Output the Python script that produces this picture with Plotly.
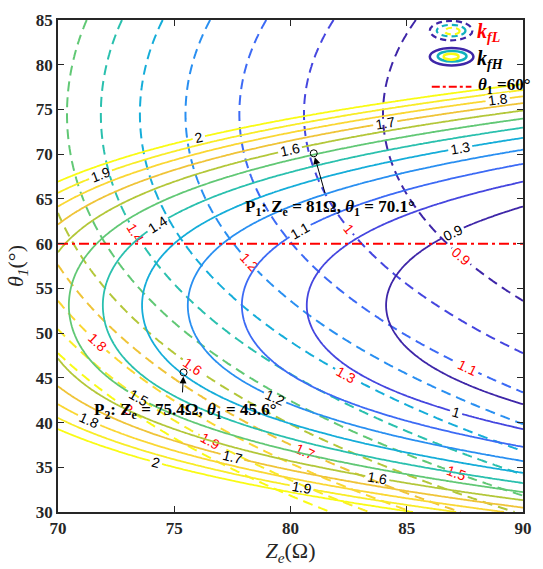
import numpy as np
import plotly.graph_objects as go

# Sweep ranges: even-mode impedance Ze (ohm) and electrical length theta1 (deg)
ze = np.linspace(70, 90, 201)
theta = np.linspace(30, 85, 221)

# Contour levels shared by both frequency ratios
level_start, level_end, level_step = 0.9, 2.0, 0.1

# Ratio model: k = (c0 + c2*d^2 + c4*d^4) / (Ze - Zref), d = theta1 - centre
z_ref = 50.0
kfh_center = 53.1
kfh_coef = [30.7, 0.0341, 7.6e-5]
kfl_center = 74.5
kfl_coef = [30.58, 0.01124, 2.70e-6]

# Design points (Ze, theta1)
p1 = (81.0, 70.1)
p2 = (75.4, 45.6)
theta_ref = 60

x_ticks = [70, 75, 80, 85, 90]
y_ticks = [30, 35, 40, 45, 50, 55, 60, 65, 70, 75, 80, 85]

# parula colour map
parula = [
    [0.000, "rgb(62,38,168)"], [0.125, "rgb(72,82,244)"], [0.250, "rgb(46,135,247)"],
    [0.375, "rgb(18,177,214)"], [0.500, "rgb(55,200,151)"], [0.625, "rgb(171,199,57)"],
    [0.750, "rgb(254,195,56)"], [0.875, "rgb(247,231,46)"], [1.000, "rgb(249,251,20)"],
]

Z, T = np.meshgrid(ze, theta)


def ratio(coef, center):
    d = T - center
    return (coef[0] + coef[1] * d**2 + coef[2] * d**4) / (Z - z_ref)


kfh = ratio(kfh_coef, kfh_center)
kfl = ratio(kfl_coef, kfl_center)

fig = go.Figure()


def contour_trace(z, dash, label_color, width):
    return go.Contour(
        x=ze, y=theta, z=z,
        colorscale=parula, zmin=level_start, zmax=level_end, zauto=False,
        showscale=False, hoverinfo="skip",
        contours=dict(start=level_start, end=level_end + 1e-3, size=level_step,
                      coloring="lines", showlabels=True,
                      labelfont=dict(family="Liberation Sans", size=14, color=label_color)),
        line=dict(width=width, dash=dash, smoothing=1),
    )


fig.add_trace(contour_trace(kfl, "10px,6px", "red", 2))
fig.add_trace(contour_trace(kfh, "solid", "black", 1.8))

# theta1 = 60 deg reference line
fig.add_trace(go.Scatter(x=[ze[0], ze[-1]], y=[theta_ref, theta_ref], mode="lines",
                         line=dict(color="red", width=2, dash="10px,4px,3px,4px"),
                         hoverinfo="skip", showlegend=False))

# design point markers
fig.add_trace(go.Scatter(x=[p1[0], p2[0]], y=[p1[1], p2[1]], mode="markers",
                         marker=dict(symbol="circle-open", size=7, color="black",
                                     line=dict(width=1)),
                         hoverinfo="skip", showlegend=False))

serif = "Liberation Serif"
annotations = [
    dict(x=p1[0], y=p1[1], ax=81.5, ay=65.5, axref="x", ayref="y", xref="x", yref="y",
         text="", showarrow=True, arrowhead=2, arrowsize=1.4, arrowwidth=1,
         arrowcolor="black", standoff=4),
    dict(x=81.7, y=64.0, xref="x", yref="y", showarrow=False,
         text="<b>P<sub>1</sub>: Z<sub>e</sub> = 81Ω, <i>θ</i><sub>1</sub> = 70.1°</b>",
         font=dict(family=serif, size=17, color="black")),
    dict(x=p2[0], y=p2[1], ax=75.35, ay=43.2, axref="x", ayref="y", xref="x", yref="y",
         text="", showarrow=True, arrowhead=2, arrowsize=1.4, arrowwidth=1,
         arrowcolor="black", standoff=4),
    dict(x=75.45, y=41.3, xref="x", yref="y", showarrow=False,
         text="<b>P<sub>2</sub>: Z<sub>e</sub> = 75.4Ω, <i>θ</i><sub>1</sub> = 45.6°</b>",
         font=dict(family=serif, size=17, color="black")),
]

# legend glyphs drawn in paper coordinates
L, R, TOP, BOT = 58.0, 527.0, 11.0, 520.0


def px(x):
    return (x - L) / (R - L)


def py(y):
    return (BOT - y) / (BOT - TOP)


shapes = []
ring_colors = ["rgb(62,38,168)", "rgb(18,177,190)", "rgb(249,251,20)"]
dash_rings = [(433, 12, 476, 32), (440, 16, 469, 28), (448, 19, 463, 26)]
solid_rings = [(433, 40, 477, 58), (441, 43, 470, 54), (447, 46, 462, 52)]
for (x0, y0, x1, y1), c in zip(dash_rings, ring_colors):
    shapes.append(dict(type="circle", xref="paper", yref="paper",
                       x0=px(x0), x1=px(x1), y0=py(y1), y1=py(y0),
                       line=dict(color=c, width=2.2, dash="6px,4px")))
for (x0, y0, x1, y1), c in zip(solid_rings, ring_colors):
    shapes.append(dict(type="circle", xref="paper", yref="paper",
                       x0=px(x0), x1=px(x1), y0=py(y1), y1=py(y0),
                       line=dict(color=c, width=2.5)))
shapes.append(dict(type="line", xref="paper", yref="paper",
                   x0=px(435), x1=px(475), y0=py(80), y1=py(80),
                   line=dict(color="red", width=2, dash="8px,3px,3px,3px")))

annotations += [
    dict(x=px(479), y=py(24), xref="paper", yref="paper", xanchor="left", yanchor="middle",
         showarrow=False, text="<b><i>k</i></b><sub><b><i>fL</i></b></sub>",
         font=dict(family=serif, size=20, color="red")),
    dict(x=px(479), y=py(52), xref="paper", yref="paper", xanchor="left", yanchor="middle",
         showarrow=False, text="<b><i>k</i></b><sub><b><i>fH</i></b></sub>",
         font=dict(family=serif, size=20, color="black")),
    dict(x=px(480), y=py(79), xref="paper", yref="paper", xanchor="left", yanchor="middle",
         showarrow=False, text="<b><i>θ</i><sub>1</sub> =60°</b>",
         font=dict(family=serif, size=17, color="black")),
]

axis_common = dict(showgrid=False, zeroline=False, showline=True, linecolor="#262626",
                   linewidth=1.5, mirror="ticks", ticks="inside", ticklen=6,
                   tickcolor="#262626", tickwidth=1.2,
                   tickfont=dict(family=serif, size=17, color="#262626", weight="bold"))

fig.update_layout(
    width=543, height=569,
    margin=dict(l=58, r=16, t=11, b=49),
    paper_bgcolor="white", plot_bgcolor="white",
    showlegend=False,
    shapes=shapes, annotations=annotations,
    xaxis=dict(range=[70, 90], tickvals=x_ticks,
               title=dict(text="<i>Z</i><sub><i>e</i></sub>(Ω)", standoff=4,
                          font=dict(family=serif, size=22, color="#262626")),
               **axis_common),
    yaxis=dict(range=[30, 85], tickvals=y_ticks,
               title=dict(text="<i>θ</i><sub><i>1</i></sub>(°)", standoff=6,
                          font=dict(family=serif, size=22, color="#262626")),
               **axis_common),
)

fig.write_html("out.html")
